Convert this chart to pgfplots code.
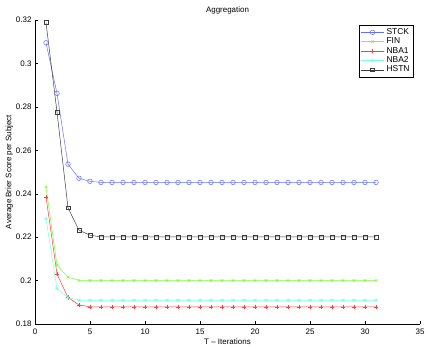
\documentclass[border=0pt]{standalone}
\usepackage{fontspec}
\setmainfont{Liberation Sans}
\usepackage{pgfplots}
\pgfplotsset{compat=1.18}
\definecolor{cstck}{RGB}{100,110,255}
\definecolor{cfin}{RGB}{120,250,50}
\definecolor{cnba1}{RGB}{255,60,60}
\definecolor{cnba2}{RGB}{120,255,225}
\definecolor{chstn}{RGB}{60,60,60}
\begin{document}
\begin{tikzpicture}
\begin{axis}[name=ax,
  scale only axis, width=385bp, height=304bp,
  xmin=0, xmax=35, ymin=0.18, ymax=0.32,
  xtick={0,5,...,35}, ytick={0.18,0.2,0.22,0.24,0.26,0.28,0.3,0.32},
  yticklabels={0.18,0.2,0.22,0.24,0.26,0.28,0.3,0.32},
  axis x line*=bottom, axis y line*=left,
  tick align=inside, major tick length=3bp,
  tick style={black, line width=0.4pt},
  axis line style={line width=0.4pt},
  /pgf/number format/assume math mode=true,
  ticklabel style={font=\fontsize{8}{9}\selectfont},
  xticklabel style={yshift=-1.5bp},
  label style={font=\fontsize{8}{9}\selectfont},
  title style={font=\fontsize{8}{9}\selectfont, yshift=-3.5bp},
  title={Aggregation},
  xlabel={T -- Iterations}, ylabel={Average Brier Score per Subject},
  xlabel style={yshift=3bp}, ylabel style={yshift=-4bp},
  legend style={at={(0.982,0.983)}, anchor=north east, font=\fontsize{8.5}{9.5}\selectfont,
    draw=black, line width=0.4pt, inner sep=1.5pt, row sep=-1.6pt, nodes={inner sep=1.8pt}},
  legend image code/.code={\draw[mark repeat=2,mark phase=2] plot coordinates {(0cm,0cm)(0.42cm,0cm)(0.84cm,0cm)};},
  legend cell align=left,
  every axis plot/.append style={line width=0.5pt},
]
\addplot[cstck, mark=o, mark size=2.3bp] coordinates {(1,0.3095)(2,0.2862)(3,0.2536)(4,0.2471)(5,0.2457)(6,0.2452)(7,0.2452)(8,0.2452)(9,0.2452)(10,0.2452)(11,0.2452)(12,0.2452)(13,0.2452)(14,0.2452)(15,0.2452)(16,0.2452)(17,0.2452)(18,0.2452)(19,0.2452)(20,0.2452)(21,0.2452)(22,0.2452)(23,0.2452)(24,0.2452)(25,0.2452)(26,0.2452)(27,0.2452)(28,0.2452)(29,0.2452)(30,0.2452)(31,0.2452)};
\addplot[cfin, mark=x, mark size=1.9bp] coordinates {(1,0.2432)(2,0.2071)(3,0.2016)(4,0.2001)(5,0.2)(6,0.2)(7,0.2)(8,0.2)(9,0.2)(10,0.2)(11,0.2)(12,0.2)(13,0.2)(14,0.2)(15,0.2)(16,0.2)(17,0.2)(18,0.2)(19,0.2)(20,0.2)(21,0.2)(22,0.2)(23,0.2)(24,0.2)(25,0.2)(26,0.2)(27,0.2)(28,0.2)(29,0.2)(30,0.2)(31,0.2)};
\addplot[cnba1, mark=+, mark size=2.2bp] coordinates {(1,0.2386)(2,0.203)(3,0.1922)(4,0.1888)(5,0.1879)(6,0.1879)(7,0.1879)(8,0.1879)(9,0.1879)(10,0.1879)(11,0.1879)(12,0.1879)(13,0.1879)(14,0.1879)(15,0.1879)(16,0.1879)(17,0.1879)(18,0.1879)(19,0.1879)(20,0.1879)(21,0.1879)(22,0.1879)(23,0.1879)(24,0.1879)(25,0.1879)(26,0.1879)(27,0.1879)(28,0.1879)(29,0.1879)(30,0.1879)(31,0.1879)};
\addplot[cnba2, mark=asterisk, mark size=2bp] coordinates {(1,0.2285)(2,0.1963)(3,0.1922)(4,0.1909)(5,0.1909)(6,0.1909)(7,0.1909)(8,0.1909)(9,0.1909)(10,0.1909)(11,0.1909)(12,0.1909)(13,0.1909)(14,0.1909)(15,0.1909)(16,0.1909)(17,0.1909)(18,0.1909)(19,0.1909)(20,0.1909)(21,0.1909)(22,0.1909)(23,0.1909)(24,0.1909)(25,0.1909)(26,0.1909)(27,0.1909)(28,0.1909)(29,0.1909)(30,0.1909)(31,0.1909)};
\addplot[chstn, mark=square, mark size=1.9bp] coordinates {(1,0.3188)(2,0.2776)(3,0.2335)(4,0.2232)(5,0.2209)(6,0.2201)(7,0.2201)(8,0.2201)(9,0.2201)(10,0.2201)(11,0.2201)(12,0.2201)(13,0.2201)(14,0.2201)(15,0.2201)(16,0.2201)(17,0.2201)(18,0.2201)(19,0.2201)(20,0.2201)(21,0.2201)(22,0.2201)(23,0.2201)(24,0.2201)(25,0.2201)(26,0.2201)(27,0.2201)(28,0.2201)(29,0.2201)(30,0.2201)(31,0.2201)};
\legend{STCK,FIN,NBA1,NBA2,HSTN}
\end{axis}
\path (ax.south west) ++(-35bp,-25bp) coordinate (bl);
\path (ax.north east) ++(9bp,20bp) coordinate (tr);
\path[use as bounding box] (bl) rectangle (tr);
\end{tikzpicture}
\end{document}
